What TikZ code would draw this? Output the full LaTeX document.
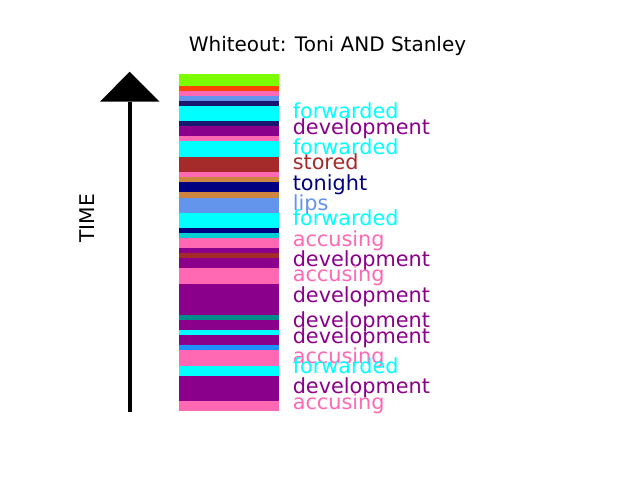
\documentclass[tikz,border=0pt]{standalone}
\usepackage{fontspec}
\setmainfont{DejaVu Sans}
\definecolor{clawngreen}{HTML}{7CFC00}
\definecolor{corangered}{HTML}{FF4500}
\definecolor{chotpink}{HTML}{FF69B4}
\definecolor{ccornflower}{HTML}{6495ED}
\definecolor{cmidnight}{HTML}{191970}
\definecolor{ccyan}{HTML}{00FFFF}
\definecolor{cdarkmagenta}{HTML}{8B008B}
\definecolor{cbrown}{HTML}{A52A2A}
\definecolor{cperu}{HTML}{CD853F}
\definecolor{cnavy}{HTML}{000080}
\definecolor{cdarkturq}{HTML}{00CED1}
\definecolor{cdarkcyan}{HTML}{008B8B}
\definecolor{cdodger}{HTML}{1E90FF}
\tikzset{
  lbl/.style={anchor=base west, inner sep=0pt, font=\fontsize{15.6}{18}\selectfont},
  ttl/.style={anchor=base, inner sep=0pt, font=\fontsize{15}{18}\selectfont},
  axislbl/.style={anchor=base, inner sep=0pt, rotate=90, font=\fontsize{15.2}{18}\selectfont},
  shaft/.style={line width=3.6pt, black},
}
\begin{document}
\begin{tikzpicture}[x=0.75pt,y=-0.75pt]
\useasboundingbox (0,0) rectangle (640,480);
\fill[white] (0,0) rectangle (640,480);
% stripes
\foreach \ya/\yb/\c in {
  74.0/85.7/clawngreen,
  85.7/91.0/corangered,
  91.0/96.0/chotpink,
  96.0/100.7/ccornflower,
  100.7/105.7/cmidnight,
  105.7/120.7/ccyan,
  120.7/125.7/cmidnight,
  125.7/136.0/cdarkmagenta,
  136.0/141.3/chotpink,
  141.3/156.7/ccyan,
  156.7/171.7/cbrown,
  171.7/177.0/chotpink,
  177.0/181.7/cperu,
  181.7/191.7/cnavy,
  191.7/197.7/cperu,
  197.7/212.7/ccornflower,
  212.7/227.7/ccyan,
  227.7/233.0/cnavy,
  233.0/238.0/cdarkturq,
  238.0/248.0/chotpink,
  248.0/253.3/cdarkmagenta,
  253.3/258.3/cbrown,
  258.3/268.3/cdarkmagenta,
  268.3/283.7/chotpink,
  283.7/314.7/cdarkmagenta,
  314.7/319.7/cdarkcyan,
  319.7/330.0/cdarkmagenta,
  330.0/335.0/ccyan,
  335.0/345.0/cdarkmagenta,
  345.0/350.0/cdodger,
  350.0/365.7/chotpink,
  365.7/375.7/ccyan,
  375.7/400.7/cdarkmagenta,
  400.7/410.7/chotpink}
  {\fill[\c] (179,\ya) rectangle (279,\yb);}
% time arrow
\coordinate (abot) at (129.9,412);
\coordinate (abase) at (129.9,101.7);
\coordinate (aleft) at (100,101.7);
\coordinate (aright) at (159.5,101.7);
\coordinate (aapex) at (129.6,71.7);
\draw[shaft] (abot) -- (abase);
\fill[black] (aleft) -- (aapex) -- (aright) -- cycle;
\node[axislbl] (timelbl) at (94.8,218.3) {TIME};
% title
\node[ttl] (title) at (327.5,51.5) {Whiteout: Toni AND Stanley};
% labels
\node[lbl, text=ccyan] (l1) at (292.5,118.8) {forwarded};
\node[lbl, text=cdarkmagenta] (l2) at (292.5,134.3) {development};
\node[lbl, text=ccyan] (l3) at (292.5,154.0) {forwarded};
\node[lbl, text=cbrown] (l4) at (292.5,169.8) {stored};
\node[lbl, text=cnavy] (l5) at (292.5,190.3) {tonight};
\node[lbl, text=ccornflower] (l6) at (292.5,210.8) {lips};
\node[lbl, text=ccyan] (l7) at (292.5,225.8) {forwarded};
\node[lbl, text=chotpink] (l8) at (292.5,246.3) {accusing};
\node[lbl, text=cdarkmagenta] (l9) at (292.5,266.3) {development};
\node[lbl, text=chotpink] (l10) at (292.5,281.3) {accusing};
\node[lbl, text=cdarkmagenta] (l11) at (292.5,302.3) {development};
\node[lbl, text=cdarkmagenta] (l12) at (292.5,327.8) {development};
\node[lbl, text=cdarkmagenta] (l13) at (292.5,343.0) {development};
\node[lbl, text=chotpink] (l14) at (292.5,363.3) {accusing};
\node[lbl, text=ccyan] (l15) at (292.5,373.8) {forwarded};
\node[lbl, text=cdarkmagenta] (l16) at (292.5,393.8) {development};
\node[lbl, text=chotpink] (l17) at (292.5,409.3) {accusing};
\end{tikzpicture}
\end{document}
